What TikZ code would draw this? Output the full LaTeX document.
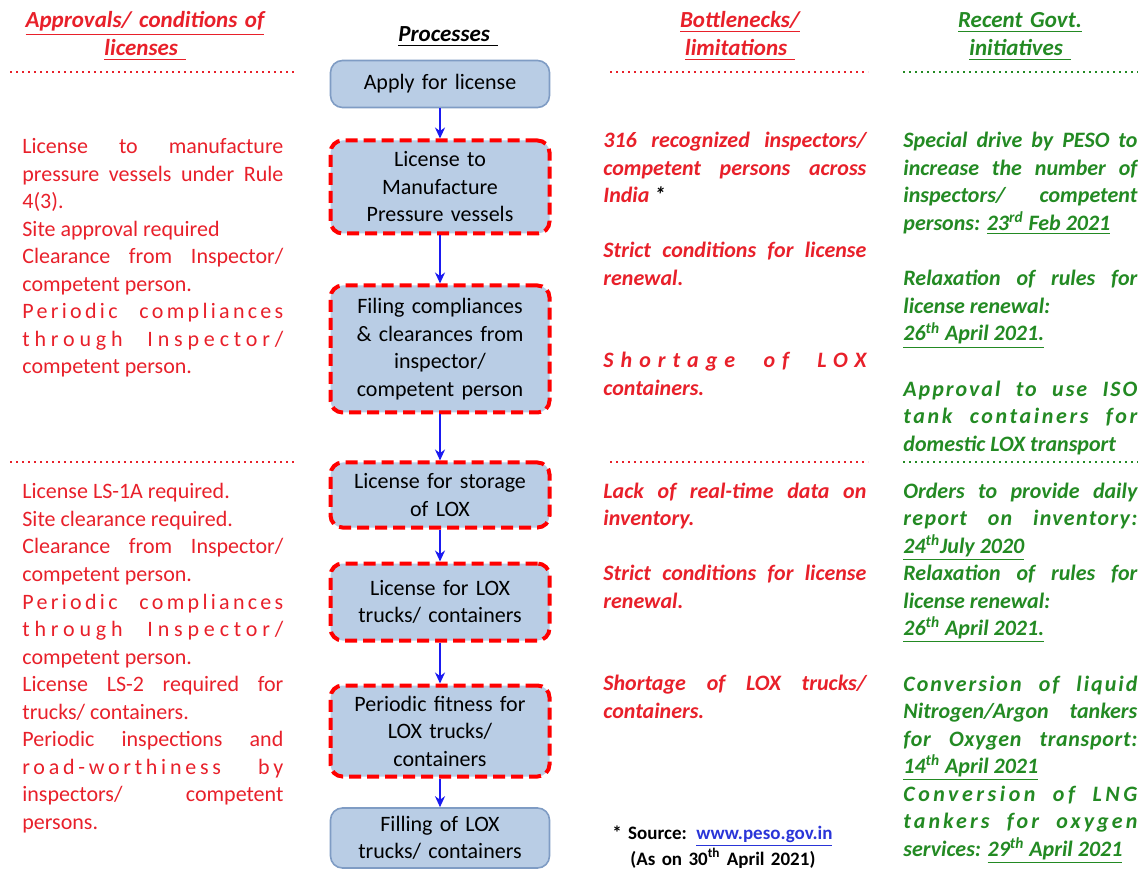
\documentclass[tikz,border=0pt]{standalone}
\usepackage{fontspec}
\setmainfont{Carlito}
\usetikzlibrary{arrows.meta,positioning}

\definecolor{redtxt}{HTML}{E8202A}
\definecolor{greentxt}{HTML}{238A23}
\definecolor{boxfill}{HTML}{B9CDE5}
\definecolor{boxline}{HTML}{7F9CC4}
\definecolor{arrowblue}{HTML}{1A1AF0}
\definecolor{linkblue}{HTML}{2A35D8}

% letter spaced lines
\newcommand{\spaced}[2][14]{{\addfontfeatures{LetterSpace=#1}#2}}
\newcommand{\ulx}[1]{\underline{#1}}

\begin{document}
\begin{tikzpicture}[x=0.5pt,y=-0.5pt,>=Stealth,
  every node/.style={font=\fontsize{11}{13.75}\selectfont},
  proc/.style={draw=boxline,fill=boxfill,line width=0.8pt,rounded corners=6pt,
    minimum width=109.5pt,text width=100pt,align=center,inner sep=1pt},
  redproc/.style={proc,draw=red,line width=2pt,dash pattern=on 6pt off 3pt},
  flow/.style={-{Stealth[length=5.5pt,width=5pt]},draw=arrowblue,line width=1.4pt},
  head/.style={font=\fontsize{11.5}{14}\selectfont\bfseries\itshape,align=center,text width=140pt,inner sep=0pt,anchor=base},
  lefttxt/.style={text=redtxt,anchor=base west,inner sep=0pt,text width=130.5pt,align=justify},
  midtxt/.style={text=redtxt,font=\fontsize{11}{13.75}\selectfont\bfseries\itshape,anchor=base west,inner sep=0pt,text width=131.5pt,align=justify},
  righttxt/.style={text=greentxt,font=\fontsize{11}{13.75}\selectfont\bfseries\itshape,anchor=base west,inner sep=0pt,text width=117pt,align=justify},
  reddots/.style={draw=redtxt,line width=1.3pt,dash pattern=on 1.2pt off 1.8pt},
  greendots/.style={reddots,draw=greentxt}]
\useasboundingbox (0,0) rectangle (1138,870);

% column heads
\node[head,text=redtxt] (hApp) at (145,28) {\ulx{Approvals/ conditions of}\\ \ulx{licenses\ }};
\node[head] (hProc) at (448,42) {\ulx{Processes\ }};
\node[head,text=redtxt] (hBot) at (740,28) {\ulx{Bottlenecks/}\\ \ulx{limitations\ }};
\node[head,text=greentxt] (hGov) at (1020,28) {\ulx{Recent Govt.}\\ \ulx{initiatives\ }};

\draw[reddots] (10,72) -- (295,72);
\draw[reddots] (610,72) -- (868,72);
\draw[greendots] (903,72) -- (1138,72);
\draw[reddots] (10,462) -- (295,462);
\draw[reddots] (610,462) -- (868,462);
\draw[greendots] (903,462) -- (1138,462);

% process chain
\node[proc,minimum height=23.5pt] (apply) at (440,84) {Apply for license};
\node[redproc,minimum height=46.5pt] (manuf) at (440,187) {License to\\ Manufacture\\ Pressure vessels};
\node[redproc,minimum height=63.5pt] (filing) at (440,349) {Filing compliances\\ \& clearances from\\ inspector/\\ competent person};
\node[redproc,minimum height=32.5pt] (storage) at (440,495) {License for storage\\ of LOX};
\node[redproc,minimum height=38.5pt] (trucks) at (440,602) {License for LOX\\ trucks/ containers};
\node[redproc,minimum height=45.5pt] (fitness) at (440,731) {Periodic fitness for\\ LOX trucks/\\ containers};
\node[proc,minimum height=30pt] (filling) at (440,838) {Filling of LOX\\ trucks/ containers};

\draw[flow] (apply) -- (manuf);
\draw[flow] (manuf) -- (filing);
\draw[flow] (filing) -- (storage);
\draw[flow] (storage) -- (trucks);
\draw[flow] (trucks) -- (fitness);
\draw[flow] (fitness) -- (filling);

% approvals
\node[lefttxt] (appA) at (22,154) {License to manufacture\linebreak pressure vessels under Rule\linebreak 4(3).\\
Site approval required\\
Clearance from Inspector/\linebreak competent person.\\
\spaced[15]{Periodic compliances}\linebreak \spaced[22]{through Inspector/}\linebreak competent person.};
\node[lefttxt] (appB) at (22,499) {License LS-1A required.\\
Site clearance required.\\
Clearance from Inspector/\linebreak competent person.\\
\spaced[15]{Periodic compliances}\linebreak \spaced[22]{through Inspector/}\linebreak competent person.\\
License LS-2 required for\linebreak trucks/ containers.\\
Periodic inspections and\linebreak \spaced[17]{road-worthiness by}\linebreak inspectors/ competent\linebreak persons.};

% bottlenecks
\node[midtxt] (botA) at (603,148) {316 recognized inspectors/\linebreak competent persons across\linebreak India {\color{black}*}};
\node[midtxt] (botB) at (603,258) {Strict conditions for license\linebreak renewal.};
\node[midtxt] (botC) at (603,368) {\spaced[32]{Shortage of LOX}\linebreak containers.};
\node[midtxt] (botD) at (603,498) {Lack of real-time data on\linebreak inventory.};
\node[midtxt] (botE) at (603,580.5) {Strict conditions for license\linebreak renewal.};
\node[midtxt] (botF) at (603,690.5) {Shortage of LOX trucks/\linebreak containers.};

\node[anchor=base west,inner sep=0pt,text width=140pt,align=left,font=\fontsize{9.5}{9}\selectfont\bfseries] (src) at (612,839)
  {* Source: {\color{linkblue}\ulx{www.peso.gov.in}}\\ \hspace*{9pt}(As on 30\textsuperscript{th} April 2021)};

% initiatives
\node[righttxt] (govA) at (903,148) {Special drive by PESO to\linebreak increase the number of\linebreak inspectors/ competent\linebreak persons: \ulx{23\textsuperscript{rd} Feb 2021}};
\node[righttxt] (govB) at (903,286) {Relaxation of rules for\linebreak license renewal:\\ \ulx{26\textsuperscript{th} April 2021.}};
\node[righttxt] (govC) at (903,396.5) {\spaced[9]{Approval to use ISO}\linebreak \spaced[12]{tank containers for}\linebreak domestic LOX transport};
\node[righttxt] (govD) at (903,498) {Orders to provide daily\linebreak \spaced[6]{report on inventory:}\linebreak \ulx{24\textsuperscript{th}July 2020}\\
Relaxation of rules for\linebreak license renewal:\\ \ulx{26\textsuperscript{th} April 2021.}};
\node[righttxt] (govE) at (903,691) {\spaced[9]{Conversion of liquid}\linebreak Nitrogen/Argon tankers\linebreak \spaced[3]{for Oxygen transport:}\linebreak \ulx{14\textsuperscript{th} April 2021}\\
\spaced[16]{Conversion of LNG}\linebreak \spaced[14]{tankers for oxygen}\linebreak services: \ulx{29\textsuperscript{th} April 2021}};
\end{tikzpicture}
\end{document}
